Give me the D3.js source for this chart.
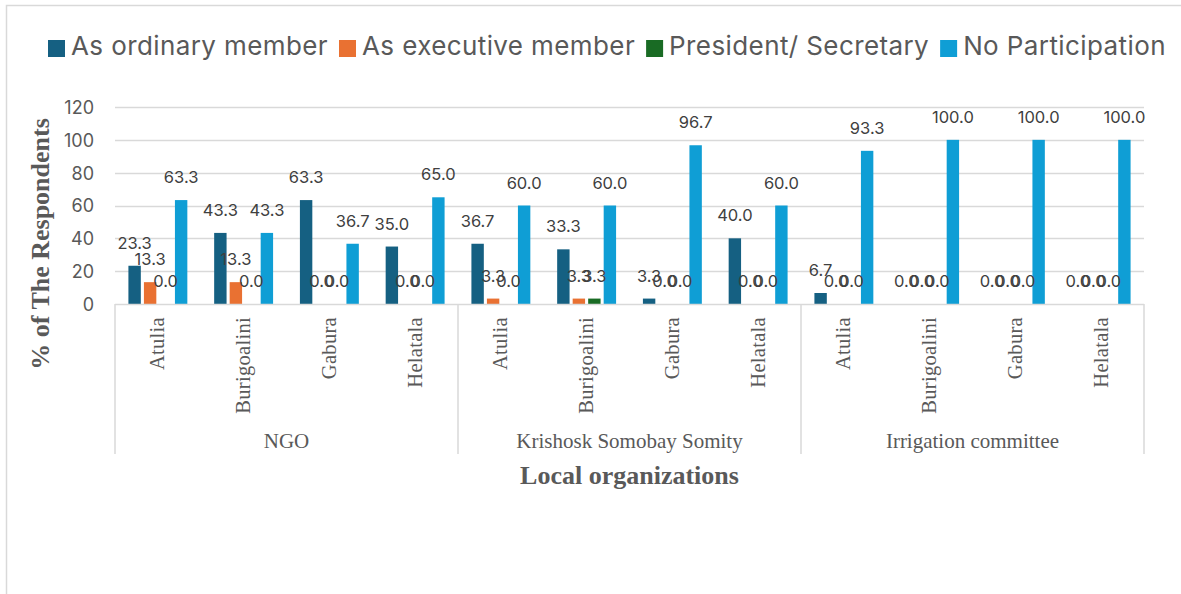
<!DOCTYPE html>
<html>
<head>
<meta charset="utf-8">
<script src="https://cdn.jsdelivr.net/npm/d3@7"></script>
<style>
  html, body { margin: 0; padding: 0; background: #fff; }
  svg { display: block; }
</style>
</head>
<body>
<svg id="chart" width="1181" height="594"></svg>
<script>
// Participation in local organizations, by village
const groups = ["NGO", "Krishosk Somobay Somity", "Irrigation committee"];
const villages = ["Atulia", "Burigoalini", "Gabura", "Helatala"];
const seriesNames = ["As ordinary member", "As executive member", "President/ Secretary", "No Participation"];
const seriesColors = ["#156082", "#E97132", "#196B24", "#0F9ED5"];

// one value per village, groups in order NGO | KSS | Irrigation committee
const ordinaryMember  = [23.3, 43.3, 63.3, 35.0,  36.7, 33.3, 3.3, 40.0,  6.7, 0.0, 0.0, 0.0];
const executiveMember = [13.3, 13.3, 0.0, 0.0,    3.3, 3.3, 0.0, 0.0,     0.0, 0.0, 0.0, 0.0];
const presidentSecretary = [0.0, 0.0, 0.0, 0.0,   0.0, 3.3, 0.0, 0.0,     0.0, 0.0, 0.0, 0.0];
const noParticipation = [63.3, 43.3, 36.7, 65.0,  60.0, 60.0, 96.7, 60.0, 93.3, 100.0, 100.0, 100.0];

const yTicks = [0, 20, 40, 60, 80, 100, 120];

const seriesValues = [ordinaryMember, executiveMember, presidentSecretary, noParticipation];

// flat category list: group × village
const categories = [];
groups.forEach((g, gi) => villages.forEach((v, vi) => categories.push({ key: gi * villages.length + vi, group: g, village: v })));

const svg = d3.select("#chart");
const sans = "Inter, 'Liberation Sans', Arial, sans-serif";
const serif = "'Liberation Serif', 'Times New Roman', serif";

const plot = { left: 115, right: 1144, top: 107, bottom: 304 };

// chart frame
svg.append("rect")
  .attr("x", 6.5).attr("y", 5.5)
  .attr("width", 1400).attr("height", 800)
  .attr("fill", "none").attr("stroke", "#d9d9d9").attr("stroke-width", 1.5);

const x0 = d3.scaleBand()
  .domain(categories.map(d => d.key))
  .range([plot.left, plot.right])
  .padding(0);

const x1 = d3.scaleBand()
  .domain(d3.range(seriesNames.length))
  .range([0, x0.bandwidth()])
  .paddingInner(0.2)
  .paddingOuter(0.865);

const y = d3.scaleLinear().domain([0, 120]).range([plot.bottom, plot.top]);

// gridlines
svg.append("g")
  .selectAll("line")
  .data(yTicks.filter(t => t > 0))
  .join("line")
  .attr("x1", plot.left).attr("x2", plot.right)
  .attr("y1", d => Math.round(y(d)) + 0.5).attr("y2", d => Math.round(y(d)) + 0.5)
  .attr("stroke", "#d9d9d9").attr("stroke-width", 1.5);

// y axis labels
const yAxis = svg.append("g")
  .attr("transform", `translate(${plot.left - 21},0)`)
  .call(d3.axisLeft(y).tickValues(yTicks).tickSize(0).tickPadding(0));
yAxis.select(".domain").remove();
yAxis.selectAll("text")
  .attr("font-family", sans).attr("font-size", 18).attr("fill", "#595959")
  .attr("dy", "0.36em");

// bars
const catG = svg.append("g")
  .selectAll("g")
  .data(categories)
  .join("g")
  .attr("transform", d => `translate(${x0(d.key)},0)`);

catG.selectAll("rect")
  .data(d => seriesValues.map((vals, si) => ({ si, v: vals[d.key] })))
  .join("rect")
  .attr("x", d => x1(d.si))
  .attr("width", x1.bandwidth())
  .attr("y", d => y(d.v))
  .attr("height", d => y(0) - y(d.v))
  .attr("fill", d => seriesColors[d.si]);

// value labels
catG.selectAll("text")
  .data(d => seriesValues.map((vals, si) => ({ si, v: vals[d.key] })))
  .join("text")
  .attr("x", d => x1(d.si) + x1.bandwidth() / 2)
  .attr("y", d => y(d.v) - 17)
  .attr("text-anchor", "middle")
  .attr("font-family", sans).attr("font-size", 16.5).attr("fill", "#404040")
  .text(d => d.v.toFixed(1));

// category axis baseline and group separators
svg.append("line")
  .attr("x1", plot.left).attr("x2", plot.right)
  .attr("y1", plot.bottom + 0.5).attr("y2", plot.bottom + 0.5)
  .attr("stroke", "#d9d9d9").attr("stroke-width", 1.5);

const sepX = d3.range(groups.length + 1).map(i => i === groups.length ? plot.right : x0(i * villages.length));
svg.append("g")
  .selectAll("line")
  .data(sepX)
  .join("line")
  .attr("x1", d => d).attr("x2", d => d)
  .attr("y1", plot.bottom).attr("y2", 454)
  .attr("stroke", "#d9d9d9").attr("stroke-width", 1.5);

// village labels (rotated)
svg.append("g")
  .selectAll("text")
  .data(categories)
  .join("text")
  .attr("transform", d => `translate(${x0(d.key) + x0.bandwidth() / 2},317) rotate(-90)`)
  .attr("text-anchor", "end")
  .attr("dy", "0.32em")
  .attr("font-family", serif).attr("font-size", 20.5).attr("letter-spacing", 0.3).attr("fill", "#595959")
  .text(d => d.village);

// group labels
svg.append("g")
  .selectAll("text")
  .data(groups)
  .join("text")
  .attr("x", (d, i) => (sepX[i] + sepX[i + 1]) / 2)
  .attr("y", 448)
  .attr("text-anchor", "middle")
  .attr("font-family", serif).attr("font-size", 21).attr("fill", "#595959")
  .text(d => d);

// axis titles
svg.append("text")
  .attr("x", (plot.left + plot.right) / 2).attr("y", 484)
  .attr("text-anchor", "middle")
  .attr("font-family", serif).attr("font-size", 26).attr("font-weight", "bold").attr("fill", "#595959")
  .text("Local organizations");

svg.append("text")
  .attr("transform", "translate(40,244) rotate(-90)")
  .attr("text-anchor", "middle")
  .attr("dy", "0.35em")
  .attr("font-family", serif).attr("font-size", 26).attr("font-weight", "bold").attr("fill", "#595959")
  .text("% of The Respondents");

// legend
const legend = svg.append("g");
let lx = 48;
seriesNames.forEach((name, i) => {
  legend.append("rect")
    .attr("x", lx).attr("y", 40).attr("width", 17).attr("height", 17)
    .attr("fill", seriesColors[i]);
  const t = legend.append("text")
    .attr("x", lx + 23).attr("y", 55)
    .attr("font-family", sans).attr("font-size", 26).attr("letter-spacing", 0.4).attr("fill", "#595959")
    .text(name);
  lx += 23 + t.node().getComputedTextLength() + 11;
});
</script>
</body>
</html>
